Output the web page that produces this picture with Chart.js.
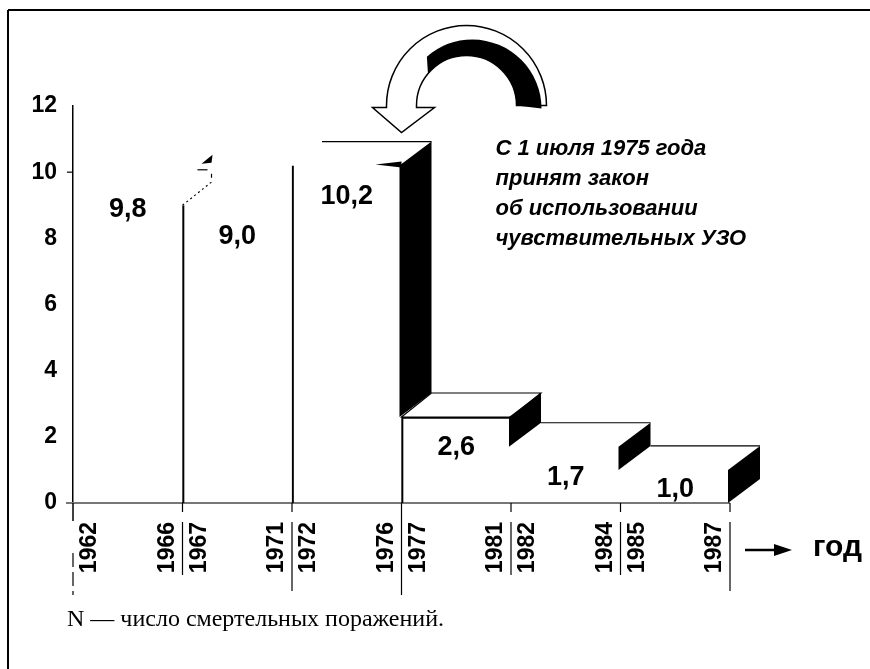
<!DOCTYPE html>
<html>
<head>
<meta charset="utf-8">
<script src="https://cdn.jsdelivr.net/npm/chart.js@4.4.1/dist/chart.umd.min.js"></script>
<style>
  html, body { margin: 0; padding: 0; background: #fff; }
  #wrap { width: 870px; height: 669px; }
</style>
</head>
<body>
<div id="wrap"><canvas id="chart" width="870" height="669"></canvas></div>
<script>
// ==================== Data ====================
const periods = ['1962-1966', '1967-1971', '1972-1976', '1977-1981', '1982-1984', '1985-1987'];
const startYears = ['1962', '1967', '1972', '1977', '1982', '1985'];
const endYears = ['1966', '1971', '1976', '1981', '1984', '1987'];
const deaths = [9.8, 9.0, 10.2, 2.6, 1.7, 1.0];
const valueLabels = ['9,8', '9,0', '10,2', '2,6', '1,7', '1,0'];
const noteLines = ['С 1 июля 1975 года', 'принят закон', 'об использовании', 'чувствительных УЗО'];
const axisName = 'год';
const footnote = 'N — число смертельных поражений.';

// ==================== Styles ====================
const DX = 30, DY = -24;              // "3D" depth of the steps
const FONT = '"Liberation Sans", Arial, sans-serif';
// which edges of the front face survive in the print
const frontEdges = [{}, { left: 1.5 }, { left: 1.5 }, { left: 1.5, top: 1.5 }, {}, {}];
// how the top face of each step is drawn
const topFace = ['corner', 'dotted', 'back', 'full', 'back', 'back'];
const blackSide = [false, false, true, true, true, true];
// boundaries whose line runs down past the year labels
const longBoundary = [true, false, true, true, false, false, true];

function barGeom(chart, i) {
    const bar = chart.getDatasetMeta(0).data[i];
    const half = bar.width / 2;
    return { x0: bar.x - half, x1: bar.x + half, cx: bar.x, top: bar.y, base: bar.base };
}

function line(ctx, x0, y0, x1, y1) {
    ctx.beginPath();
    ctx.moveTo(x0, y0);
    ctx.lineTo(x1, y1);
    ctx.stroke();
}

// ==================== Steps: top and side faces ====================
const stepsPlugin = {
    id: 'steps',
    beforeDatasetsDraw(chart) {
        const { ctx, chartArea, scales } = chart;
        const y0 = scales.y.getPixelForValue(0);
        ctx.save();
        // x axis (grey)
        ctx.strokeStyle = '#777';
        ctx.lineWidth = 2;
        line(ctx, chartArea.left - 7, y0, chartArea.right, y0);
        // lone tick at 10
        ctx.strokeStyle = '#000';
        ctx.lineWidth = 1.2;
        const y10 = scales.y.getPixelForValue(10);
        line(ctx, chartArea.left - 6, y10, chartArea.left, y10);
        ctx.restore();
    },
    afterDatasetsDraw(chart) {
        const { ctx, scales } = chart;
        const yS = scales.y;
        const n = deaths.length;
        ctx.save();
        ctx.strokeStyle = '#000';
        ctx.lineWidth = 1.2;
        for (let i = 0; i < n; i++) {
            const g = barGeom(chart, i);
            const nextTop = i < n - 1 ? yS.getPixelForValue(deaths[i + 1]) : yS.getPixelForValue(0);
            const st = topFace[i];

            if (st === 'full') {
                ctx.beginPath();
                ctx.moveTo(g.x0, g.top);
                ctx.lineTo(g.x0 + DX, g.top + DY);
                ctx.lineTo(g.x1 + DX, g.top + DY);
                ctx.lineTo(g.x1, g.top);
                ctx.closePath();
                ctx.fillStyle = '#fff';
                ctx.fill();
                ctx.stroke();
            }
            if (st === 'back') {
                line(ctx, g.x0 + DX, g.top + DY, g.x1 + DX, g.top + DY);
            }
            if (st === 'dotted') {
                ctx.save();
                ctx.setLineDash([2, 3]);
                line(ctx, g.x0, g.top, g.x0 + DX, g.top + DY);
                ctx.restore();
            }
            if (st === 'corner') {
                const cx = g.x1 + DX, cy = g.top + DY;
                ctx.fillStyle = '#000';
                ctx.beginPath();
                ctx.moveTo(cx, cy);
                ctx.lineTo(cx - 11, cy + 9);
                ctx.lineTo(cx - 1, cy + 8);
                ctx.closePath();
                ctx.fill();
                line(ctx, cx - 15, cy + 15, cx - 5, cy + 15);
                line(ctx, cx - 1, cy + 19, cx - 1, cy + 23);
            }

            if (blackSide[i]) {
                const bottom = Math.max(nextTop, g.top);
                ctx.fillStyle = '#000';
                ctx.beginPath();
                ctx.moveTo(g.x1 - 2, g.top);
                ctx.lineTo(g.x1 + DX, g.top + DY);
                ctx.lineTo(g.x1 + DX, bottom + DY);
                ctx.lineTo(g.x1 - 2, bottom);
                ctx.closePath();
                ctx.fill();
                if (i === 2) {
                    // brush-like front edge on the tall step
                    ctx.beginPath();
                    ctx.moveTo(g.x1 - 26, g.top - 1);
                    ctx.lineTo(g.x1, g.top - 4);
                    ctx.lineTo(g.x1, g.top + 2);
                    ctx.closePath();
                    ctx.fill();
                }
            }
        }
        ctx.restore();
    },
    afterDraw(chart) {
        const { ctx, chartArea, scales } = chart;
        const yS = scales.y;
        const y0 = yS.getPixelForValue(0);
        const n = deaths.length;
        ctx.save();

        // frame
        ctx.strokeStyle = '#000';
        ctx.lineWidth = 2;
        line(ctx, 8, 10, 870, 10);
        line(ctx, 8, 10, 8, 669);

        // y axis stub below zero
        ctx.lineWidth = 1.5;
        line(ctx, chartArea.left, y0, chartArea.left, y0 + 18);

        // boundary ticks, separators between year labels
        ctx.lineWidth = 1.2;
        for (let b = 0; b <= n; b++) {
            const x = b < n ? barGeom(chart, b).x0 : barGeom(chart, n - 1).x1;
            if (b === 3) {
                line(ctx, x, y0, x, y0 + 92);
                continue;
            }
            if (b > 0) {
                line(ctx, x, y0, x, y0 + 9);
                line(ctx, x, y0 + 19, x, y0 + 72);
            }
            if (longBoundary[b]) {
                ctx.save();
                ctx.setLineDash(b === 0 ? [14, 5] : [16, 4]);
                line(ctx, x, b === 0 ? y0 + 50 : y0 + 72, x, y0 + 92);
                ctx.restore();
            }
        }

        // year labels (rotated)
        ctx.fillStyle = '#000';
        ctx.font = 'bold 23px ' + FONT;
        const rot = (t, x, y) => {
            ctx.save();
            ctx.translate(x, y);
            ctx.rotate(-Math.PI / 2);
            ctx.textAlign = 'right';
            ctx.textBaseline = 'middle';
            ctx.fillText(t, 0, 0);
            ctx.restore();
        };
        for (let i = 0; i < n; i++) {
            const g = barGeom(chart, i);
            rot(startYears[i], g.x0 + 17, y0 + 19);
            rot(endYears[i], g.x1 - 15, y0 + 19);
        }

        // value labels
        ctx.font = 'bold 27px ' + FONT;
        ctx.textAlign = 'center';
        ctx.textBaseline = 'middle';
        for (let i = 0; i < n; i++) {
            const g = barGeom(chart, i);
            ctx.fillText(valueLabels[i], g.cx, Math.min(g.top + 31, y0 - 13));
        }

        // "-> год"
        const ax = barGeom(chart, n - 1).x1;
        const ay = y0 + 47;
        ctx.lineWidth = 2.5;
        line(ctx, ax + 15, ay, ax + 48, ay);
        ctx.beginPath();
        ctx.moveTo(ax + 62, ay);
        ctx.lineTo(ax + 44, ay - 6);
        ctx.lineTo(ax + 44, ay + 6);
        ctx.closePath();
        ctx.fill();
        ctx.font = 'bold 30px ' + FONT;
        ctx.textAlign = 'left';
        ctx.fillText(axisName, ax + 83, ay - 2);

        // note about the 1975 law
        const g2 = barGeom(chart, 2);
        ctx.font = 'italic bold 22px ' + FONT;
        ctx.textBaseline = 'alphabetic';
        noteLines.forEach((t, k) => ctx.fillText(t, g2.x1 + 94, g2.top - 11 + k * 30));

        // curved arrow pointing at the tall step
        const tx = g2.x1, ty = g2.top + DY - 9;
        const cx = tx + 65, cy = ty - 27, rO = 80, rI = 50;
        ctx.lineWidth = 1.5;
        ctx.beginPath();
        ctx.moveTo(cx - rO, cy + 2);
        ctx.lineTo(cx - rO - 14, cy + 2);
        ctx.lineTo(tx, ty);
        ctx.lineTo(cx - rI + 18, cy + 2);
        ctx.lineTo(cx - rI, cy + 2);
        ctx.arc(cx, cy, rI, Math.PI, 2 * Math.PI, false);
        ctx.lineTo(cx + rO, cy);
        ctx.arc(cx, cy, rO, 2 * Math.PI, Math.PI, true);
        ctx.closePath();
        ctx.fillStyle = '#fff';
        ctx.fill();
        ctx.stroke();
        ctx.fillStyle = '#000';
        ctx.beginPath();
        ctx.arc(cx, cy, rI, 1.22 * Math.PI, 2 * Math.PI, false);
        ctx.arc(cx + 6, cy + 3, 69, 2 * Math.PI, 1.27 * Math.PI, true);
        ctx.closePath();
        ctx.fill();

        // footnote
        ctx.font = '24px "Liberation Serif", "Times New Roman", serif';
        ctx.textBaseline = 'middle';
        ctx.fillText(footnote, 67, 620);
        ctx.restore();
    }
};

// ==================== Chart ====================
const ctx = document.getElementById('chart').getContext('2d');
new Chart(ctx, {
    type: 'bar',
    data: {
        labels: periods,
        datasets: [{
            data: deaths,
            backgroundColor: 'rgba(0,0,0,0)',
            borderColor: '#000',
            borderWidth: c => frontEdges[c.dataIndex],
            borderSkipped: false,
            categoryPercentage: 1,
            barPercentage: 1
        }]
    },
    options: {
        responsive: false,
        animation: false,
        devicePixelRatio: 1,
        layout: { padding: { left: 10, top: 106, right: 140, bottom: 166 } },
        plugins: {
            legend: { display: false },
            tooltip: { enabled: false }
        },
        scales: {
            x: { display: false },
            y: {
                min: 0,
                max: 12,
                ticks: {
                    stepSize: 2,
                    padding: 16,
                    color: '#000',
                    font: { family: FONT, size: 23, weight: 'bold' }
                },
                grid: { display: false, drawTicks: false },
                border: { display: true, color: '#000', width: 1.5 },
                afterFit(scale) { scale.width = 63; }
            }
        }
    },
    plugins: [stepsPlugin]
});
</script>
</body>
</html>
